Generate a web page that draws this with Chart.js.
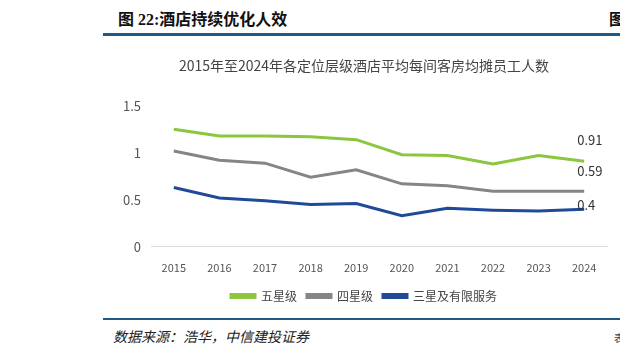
<!DOCTYPE html>
<html><head><meta charset="utf-8">
<script src="https://cdn.jsdelivr.net/npm/chart.js@4.4.1/dist/chart.umd.min.js"></script>
<style>
html,body{margin:0;padding:0;background:#fff;width:620px;height:357px;overflow:hidden;position:relative;font-family:"Noto Sans CJK SC",sans-serif;}
#hdr{position:absolute;left:118px;top:6px;font:bold 16px "Liberation Serif","Noto Sans CJK SC";color:#111;white-space:nowrap;}
#hdr2{position:absolute;left:609px;top:6px;font:bold 16px "Liberation Serif","Noto Sans CJK SC";color:#111;}
#line1{position:absolute;left:103px;top:33px;width:517px;height:3px;background:#1d5a87;}
#line2{position:absolute;left:103px;top:318px;width:517px;height:2px;background:#1d5a87;}
#src{position:absolute;left:113px;top:326px;font:italic 14px "Noto Sans CJK SC";color:#222;white-space:nowrap;}
#src2{position:absolute;left:614px;top:330px;font:10px "Noto Sans CJK SC";color:#444;}
#wrap{position:absolute;left:100px;top:40px;width:520px;height:272px;}
</style></head>
<body>
<div id="hdr">图 22:酒店持续优化人效</div>
<div id="hdr2">图</div>
<div id="line1"></div>
<div id="wrap"><canvas id="c"></canvas></div>
<div id="line2"></div>
<div id="src">数据来源：浩华，中信建投证券</div>
<div id="src2">表</div>
<script>
const years = ['2015','2016','2017','2018','2019','2020','2021','2022','2023','2024'];
const fiveStar = [1.25,1.18,1.18,1.17,1.14,0.98,0.97,0.88,0.97,0.91];
const fourStar = [1.02,0.92,0.89,0.74,0.82,0.67,0.65,0.59,0.59,0.59];
const threeStar = [0.63,0.52,0.49,0.45,0.46,0.33,0.41,0.39,0.38,0.40];
const seriesNames = ['五星级','四星级','三星及有限服务'];
const chartTitle = '2015年至2024年各定位层级酒店平均每间客房均摊员工人数';

const endLabelPlugin = {
  id:'endLabels',
  afterDatasetsDraw(chart){
    const ctx = chart.ctx;
    const offs = [-21,-20,-4];
    ctx.save();
    ctx.font = '13px "Noto Sans CJK SC"';
    ctx.fillStyle = '#333';
    ctx.textAlign = 'left';
    ctx.textBaseline = 'middle';
    chart.data.datasets.forEach((ds,i)=>{
      const meta = chart.getDatasetMeta(i);
      const last = meta.data[meta.data.length-1];
      ctx.fillText(String(ds.data[ds.data.length-1]), last.x-7, last.y+offs[i]);
    });
    ctx.restore();
  }
};

new Chart(document.getElementById('c'),{
  type:'line',
  data:{labels:years,datasets:[
    {label:seriesNames[0],data:fiveStar,borderColor:'#8cc63e',backgroundColor:'#8cc63e',borderWidth:3,pointRadius:0,tension:0},
    {label:seriesNames[1],data:fourStar,borderColor:'#858585',backgroundColor:'#858585',borderWidth:3,pointRadius:0,tension:0},
    {label:seriesNames[2],data:threeStar,borderColor:'#1f4a98',backgroundColor:'#1f4a98',borderWidth:3,pointRadius:0,tension:0}
  ]},
  options:{
    responsive:true,maintainAspectRatio:false,animation:false,
    layout:{padding:{left:21,right:13,top:0,bottom:0}},
    plugins:{
      title:{display:true,text:chartTitle,color:'#444',font:{size:14,family:'"Noto Sans CJK SC"',weight:'normal'},padding:{top:17,bottom:32}},
      legend:{position:'bottom',labels:{boxWidth:24,boxHeight:3,color:'#444',font:{size:12,family:'"Noto Sans CJK SC"'},padding:10}},
      tooltip:{enabled:false}
    },
    scales:{
      x:{offset:true,grid:{display:false},border:{display:true,color:'#dcdcdc',width:1},
         ticks:{color:'#555',font:{size:11,family:'"Noto Sans CJK SC"'},padding:6}},
      y:{min:0,max:1.5,grid:{display:false,drawTicks:false},border:{display:false},
         afterFit:(s)=>{s.width=30;},
         ticks:{stepSize:0.5,color:'#555',font:{size:13,family:'"Noto Sans CJK SC"'},padding:10,callback:(v)=>String(v)}}
    }
  },
  plugins:[endLabelPlugin]
});
</script>
</body></html>
